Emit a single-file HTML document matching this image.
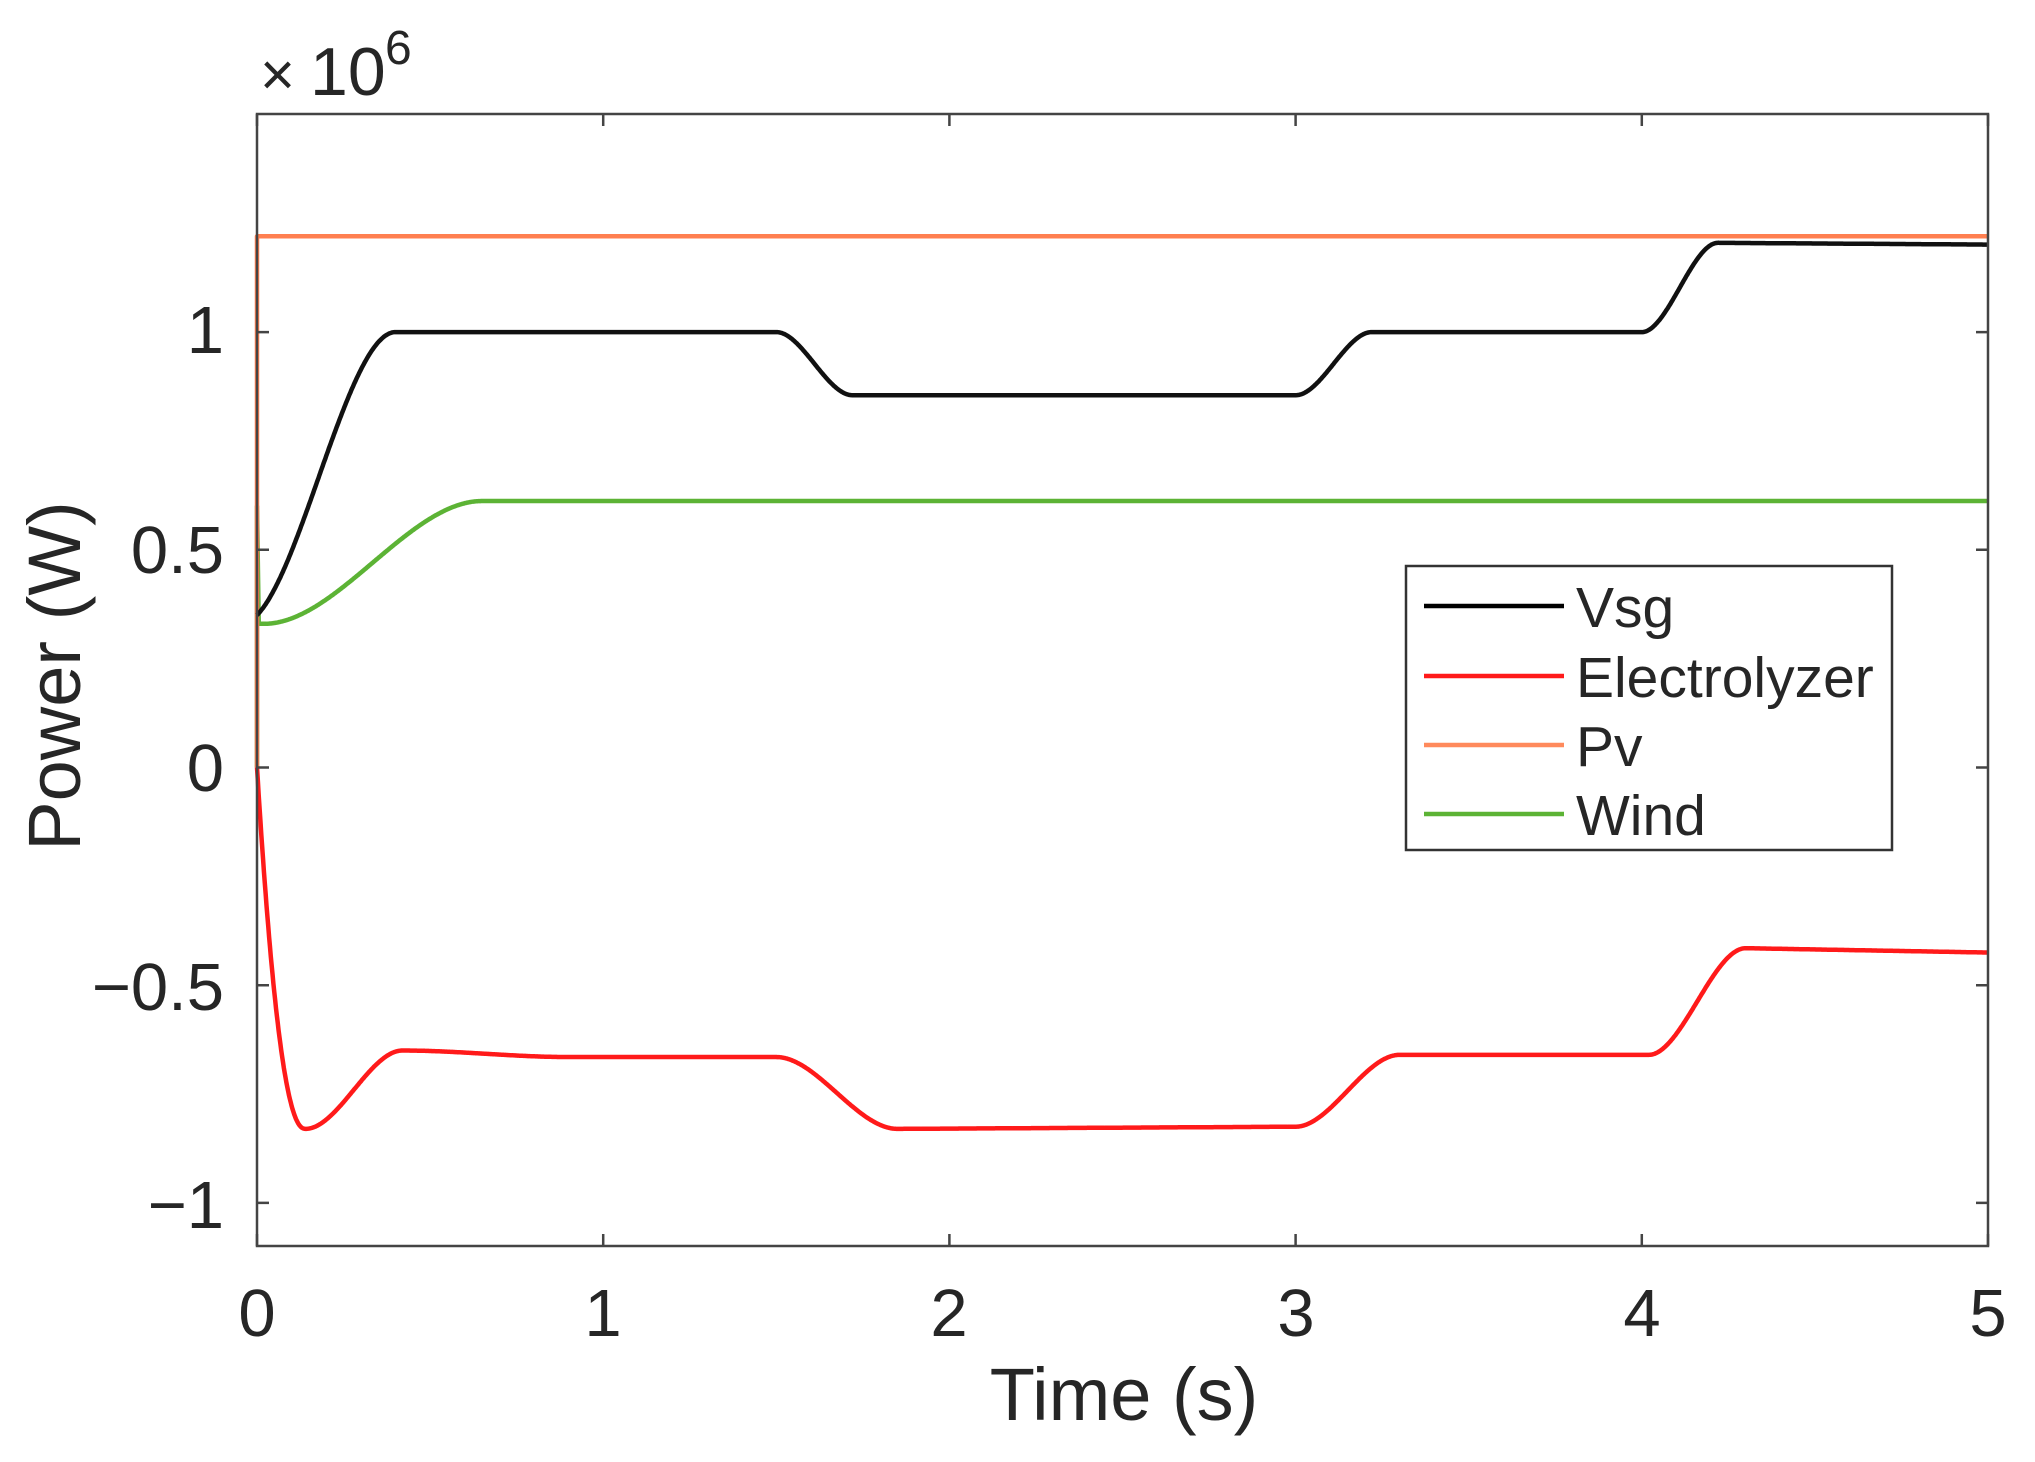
<!DOCTYPE html>
<html><head><meta charset="utf-8">
<style>
html,body{margin:0;padding:0;background:#fff;}
svg{display:block;}
text{font-family:"Liberation Sans",Arial,sans-serif;fill:#262626;}
</style></head>
<body>
<svg id="s" width="2035" height="1462" xmlns="http://www.w3.org/2000/svg">
<rect width="2035" height="1462" fill="#fff"/>
<g id="series" fill="none" stroke-width="4.5" stroke-linejoin="round"></g>
<rect x="257" y="114" width="1731" height="1132" fill="none" stroke="#444" stroke-width="2.5"/>
<g id="ticks" stroke="#444" stroke-width="2.5"></g>
<g font-size="67" text-anchor="middle">
<text x="257" y="1336">0</text>
<text x="603" y="1336">1</text>
<text x="949" y="1336">2</text>
<text x="1296" y="1336">3</text>
<text x="1642" y="1336">4</text>
<text x="1988" y="1336">5</text>
</g>
<g font-size="67" text-anchor="end">
<text x="224" y="353">1</text>
<text x="224" y="573">0.5</text>
<text x="224" y="791">0</text>
<text x="224" y="1010">−0.5</text>
<text x="224" y="1228">−1</text>
</g>
<text x="1124" y="1420" font-size="74" text-anchor="middle">Time (s)</text>
<text transform="translate(80,676) rotate(-90)" font-size="74" text-anchor="middle">Power (W)</text>
<text x="260" y="95" font-size="60">×</text>
<text x="310" y="95" font-size="68">10</text>
<text x="385" y="64" font-size="48">6</text>
<g>
<rect x="1406" y="566" width="486" height="284" fill="#fff" stroke="#333" stroke-width="2.5"/>
<line x1="1424" y1="606" x2="1564" y2="606" stroke="#000" stroke-width="4.5"/>
<line x1="1424" y1="676" x2="1564" y2="676" stroke="#ff1a1a" stroke-width="4.5"/>
<line x1="1424" y1="745" x2="1564" y2="745" stroke="#ff8a5c" stroke-width="4.5"/>
<line x1="1424" y1="814" x2="1564" y2="814" stroke="#5cb335" stroke-width="4.5"/>
<g font-size="57">
<text x="1576" y="627">Vsg</text>
<text x="1576" y="697">Electrolyzer</text>
<text x="1576" y="766">Pv</text>
<text x="1576" y="835">Wind</text>
</g>
</g>
</svg>
<script>
(function(){
var X0=257,XU=346.2,Y0=767.5,YU=435.4;
function px(t){return X0+t*XU;} function py(v){return Y0-v*YU;}
function ss(u){u=Math.max(0,Math.min(1,u));return u*u*(3-2*u);}
function tr(t,a,b,v0,v1){return v0+(v1-v0)*ss((t-a)/(b-a));}
function vsg(t){
 var v;
 if(t<0.4){var u=t/0.4;v=0.35+0.65*(0.75*ss(u)+0.25*(1-Math.pow(1-u,2)));}
 else v=1.0;
 if(t>=1.5) v=tr(t,1.5,1.72,1.0,0.855);
 if(t>=3.0) v=tr(t,3.0,3.22,0.855,1.0);
 if(t>=4.0) v=tr(t,4.0,4.22,1.0,1.205)-0.004*Math.max(0,(t-4.22)/0.78);
 return v;}
function ely(t){
 var v;
 if(t<0.14){var u=t/0.14;v=-0.83*(1-Math.pow(1-u,2.2));}
 else if(t<0.42) v=tr(t,0.14,0.42,-0.83,-0.65);
 else if(t<0.9) v=tr(t,0.42,0.9,-0.65,-0.665);
 else v=-0.665;
 if(t>=1.5) v=tr(t,1.5,1.85,-0.665,-0.83)+0.005*Math.max(0,(t-1.85)/1.15);
 if(t>=3.0) v=tr(t,3.0,3.3,-0.825,-0.66);
 if(t>=4.02) v=tr(t,4.02,4.3,-0.66,-0.415)-0.01*Math.max(0,(t-4.3)/0.7);
 return v;}
function wind(t){ if(t<0.02) return 0.33; return tr(t,0.02,0.65,0.33,0.612);}
function path(f){
 var d='';
 for(var i=0;i<=2000;i++){var t=i*5/2000;d+=(d?'L':'M')+px(t).toFixed(1)+' '+py(f(t)).toFixed(1);}
 return d;}
var g=document.getElementById('series');
function add(d,c){var p=document.createElementNS('http://www.w3.org/2000/svg','path');p.setAttribute('d',d);p.setAttribute('stroke',c);g.appendChild(p);}
add('M'+px(0)+' '+py(0)+'L'+px(0)+' '+py(0.6)+'L'+px(0.005)+' '+py(0.33)+path(wind).replace(/^M/,'L'),'#5cb335');
add('M'+px(0)+' '+py(0)+'L'+px(0)+' '+py(1.22)+'L'+px(0.02)+' '+py(1.22)+'L'+px(5)+' '+py(1.22),'#ff7f50');
add(path(vsg),'#111');
add(path(ely),'#ff1a1a');
var tk=document.getElementById('ticks'),s='';
for(var i=0;i<=5;i++){var x=px(i);s+='M'+x+' 1246L'+x+' 1234M'+x+' 114L'+x+' 126';}
[-1,-0.5,0,0.5,1].forEach(function(v){var y=py(v);s+='M257 '+y+'L269 '+y+'M1988 '+y+'L1976 '+y;});
var p=document.createElementNS('http://www.w3.org/2000/svg','path');p.setAttribute('d',s);p.setAttribute('fill','none');tk.appendChild(p);
})();
</script>
</body></html>
